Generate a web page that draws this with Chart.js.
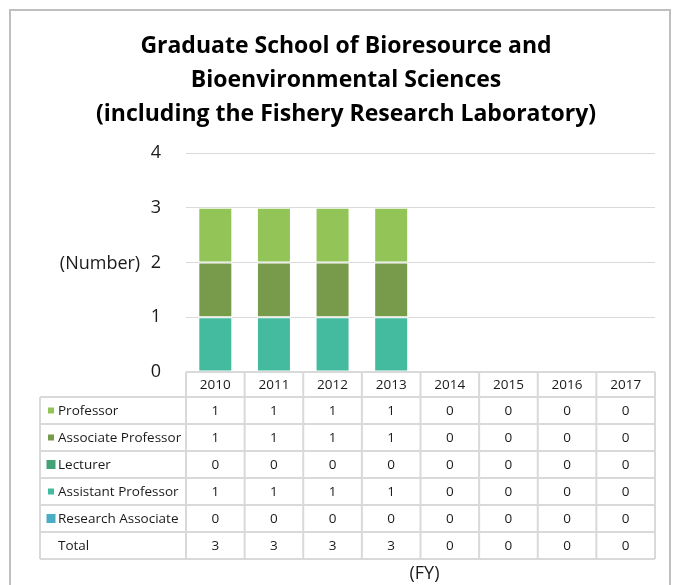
<!DOCTYPE html>
<html>
<head>
<meta charset="utf-8">
<script src="https://cdn.jsdelivr.net/npm/chart.js@4.4.1/dist/chart.umd.min.js"></script>
<style>
  html, body { margin: 0; padding: 0; background: #fff; }
  canvas { display: block; }
</style>
</head>
<body>
<canvas id="chart" width="675" height="585"></canvas>
<script>
// Data
const years = ['2010', '2011', '2012', '2013', '2014', '2015', '2016', '2017'];
const professor          = [1, 1, 1, 1, 0, 0, 0, 0];
const associateProfessor = [1, 1, 1, 1, 0, 0, 0, 0];
const lecturer           = [0, 0, 0, 0, 0, 0, 0, 0];
const assistantProfessor = [1, 1, 1, 1, 0, 0, 0, 0];
const researchAssociate  = [0, 0, 0, 0, 0, 0, 0, 0];
const yTicks = [0, 1, 2, 3, 4];
const titleLines = [
    'Graduate School of Bioresource and',
    'Bioenvironmental Sciences',
    '(including the Fishery Research Laboratory)'
];
const yTitle = '(Number)';
const xTitle = '(FY)';
const totalLabel = 'Total';

const FONT = "'Open Sans', 'Noto Sans', sans-serif";
const TEXT = '#1a1a1a';
const GRID = '#d9d9d9';

// stacking goes bottom-up, so datasets are listed from the bottom segment
const datasets = [
    { label: 'Research Associate',  data: researchAssociate,  backgroundColor: '#4bacc6', keySize: 9 },
    { label: 'Assistant Professor', data: assistantProfessor, backgroundColor: '#44bb9f', keySize: 6 },
    { label: 'Lecturer',            data: lecturer,           backgroundColor: '#43a276', keySize: 9 },
    { label: 'Associate Professor', data: associateProfessor, backgroundColor: '#779b4a', keySize: 6 },
    { label: 'Professor',           data: professor,          backgroundColor: '#93c457', keySize: 6 }
].map(d => Object.assign(d, { borderColor: '#ffffff', borderWidth: 1, borderSkipped: false }));

// outer frame, title and axis captions
const decorations = {
    id: 'decorations',
    beforeDraw(chart) {
        const ctx = chart.ctx;
        ctx.save();
        ctx.fillStyle = '#fff';
        ctx.fillRect(0, 0, chart.width, chart.height);
        ctx.strokeStyle = '#bfbfbf';
        ctx.lineWidth = 2;
        ctx.strokeRect(10, 10, 660, 600);
        ctx.restore();
    },
    afterDraw(chart) {
        const ctx = chart.ctx;
        const area = chart.chartArea;
        ctx.save();
        ctx.fillStyle = '#000';
        ctx.textAlign = 'center';
        ctx.textBaseline = 'alphabetic';
        ctx.font = 'bold 23px ' + FONT;
        titleLines.forEach((line, i) => ctx.fillText(line, 346, 53 + i * 34));

        ctx.fillStyle = TEXT;
        ctx.font = '18px ' + FONT;
        ctx.textBaseline = 'middle';
        ctx.fillText(yTitle, 100, chart.scales.y.getPixelForValue(2) + 1);
        ctx.fillText(xTitle, (area.left + area.right) / 2 + 4, 574);
        ctx.restore();
    }
};

// data table under the plot, built from the same arrays and the x scale
const dataTable = {
    id: 'dataTable',
    afterDraw(chart) {
        const ctx = chart.ctx;
        const xs = chart.scales.x;
        const top = chart.scales.y.getPixelForValue(0);
        const colW = (xs.right - xs.left) / years.length;
        const headerH = 25;
        const rowH = 27;
        const tableLeft = 40;
        const rows = datasets.slice().reverse();
        const nRows = rows.length + 1;
        const bodyTop = top + headerH;
        const bottom = bodyTop + nRows * rowH;

        ctx.save();
        ctx.strokeStyle = GRID;
        ctx.lineWidth = 2;
        ctx.beginPath();
        // horizontal lines
        ctx.moveTo(xs.left, top); ctx.lineTo(xs.right, top);
        for (let r = 0; r <= nRows; r++) {
            const yy = bodyTop + r * rowH;
            ctx.moveTo(tableLeft, yy); ctx.lineTo(xs.right, yy);
        }
        // vertical lines
        ctx.moveTo(tableLeft, bodyTop); ctx.lineTo(tableLeft, bottom);
        for (let c = 0; c <= years.length; c++) {
            const xx = xs.left + c * colW;
            ctx.moveTo(xx, top); ctx.lineTo(xx, bottom);
        }
        ctx.stroke();

        ctx.font = '13.5px ' + FONT;
        ctx.fillStyle = TEXT;
        ctx.textBaseline = 'middle';
        ctx.textAlign = 'center';
        years.forEach((yr, i) => {
            ctx.fillText(yr, xs.getPixelForValue(i), top + headerH / 2 + 1);
        });

        rows.forEach((ds, r) => {
            const cy = bodyTop + r * rowH + rowH / 2 + 1;
            const k = ds.keySize;
            ctx.fillStyle = ds.backgroundColor;
            ctx.fillRect(51 - k / 2, cy - k / 2 - 1, k, k);
            ctx.fillStyle = TEXT;
            ctx.textAlign = 'left';
            ctx.fillText(ds.label, 58, cy);
            ctx.textAlign = 'center';
            ds.data.forEach((v, i) => ctx.fillText(String(v), xs.getPixelForValue(i), cy));
        });

        const ty = bodyTop + rows.length * rowH + rowH / 2 + 1;
        ctx.textAlign = 'left';
        ctx.fillText(totalLabel, 58, ty);
        ctx.textAlign = 'center';
        years.forEach((_, i) => {
            const sum = datasets.reduce((s, d) => s + d.data[i], 0);
            ctx.fillText(String(sum), xs.getPixelForValue(i), ty);
        });
        ctx.restore();
    }
};

new Chart(document.getElementById('chart'), {
    type: 'bar',
    data: { labels: years, datasets: datasets },
    options: {
        responsive: false,
        animation: false,
        devicePixelRatio: 1,
        layout: { padding: { left: 0, top: 153, right: 20, bottom: 213 } },
        plugins: {
            legend: { display: false },
            title: { display: false },
            tooltip: { enabled: false }
        },
        datasets: { bar: { categoryPercentage: 1, barPercentage: 0.58 } },
        scales: {
            x: {
                stacked: true,
                display: false
            },
            y: {
                stacked: true,
                min: yTicks[0],
                max: yTicks[yTicks.length - 1],
                afterFit(scale) { scale.width = 186; },
                afterBuildTicks(scale) { scale.ticks = yTicks.map(v => ({ value: v })); },
                border: { display: false },
                grid: { color: GRID, lineWidth: 1, drawTicks: false },
                ticks: {
                    padding: 25,
                    color: TEXT,
                    font: { family: FONT, size: 18 }
                }
            }
        }
    },
    plugins: [decorations, dataTable]
});
</script>
</body>
</html>
